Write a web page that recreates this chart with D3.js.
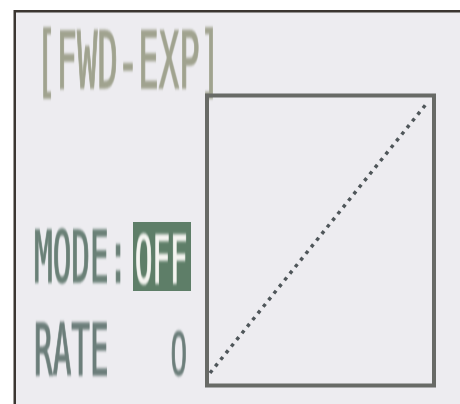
<!DOCTYPE html>
<html><head><meta charset="utf-8">
<script src="https://cdn.jsdelivr.net/npm/d3@7/dist/d3.min.js"></script>
<style>html,body{margin:0;padding:0;background:#fff;overflow:hidden}</style>
</head><body>
<svg id="c" width="460" height="404"></svg>
<script>
// Data
const title = "[FWD-EXP]";
const modeLabel = "MODE:";
const modeValue = "OFF";
const rateLabel = "RATE";
const rateValue = "0";
const stickInput = [-100, 100];
const curveOutput = [-100, 100];
const axisDomain = [-100, 100];

const svg = d3.select("#c");
const defs = svg.append("defs");
defs.append("filter").attr("id","soft").append("feGaussianBlur").attr("stdDeviation",0.6);

// screen background
svg.append("rect").attr("x",14).attr("y",10).attr("width",446).attr("height",394).attr("fill","#edecf0");
// dark bezel edges
svg.append("rect").attr("x",14).attr("y",10).attr("width",446).attr("height",2.5).attr("fill","#3b3631");
svg.append("rect").attr("x",13.5).attr("y",10).attr("width",2.5).attr("height",394).attr("fill","#3b3631");

const font = "'DejaVu Sans Mono', 'Liberation Mono', monospace";
function lcdText(txt, x, y, size, sy, color, fam) {
  return svg.append("text")
    .attr("transform", `translate(${x},${y}) scale(1,${sy})`)
    .attr("font-family", fam || font).attr("font-size", size)
    .attr("fill", color).attr("stroke", color).attr("stroke-width", 0.7)
    .attr("filter","url(#soft)")
    .text(txt);
}

lcdText(title, 36, 88, 34, 2.3, "#a0a38f");
lcdText(modeLabel, 34, 282, 31, 2.3, "#6a8077");
svg.append("rect").attr("x",133).attr("y",222).attr("width",58).attr("height",69).attr("fill","#5e7e68");
lcdText(modeValue, 135, 283, 29, 2.3, "#f4f4f0");
lcdText(rateLabel, 34, 375, 31, 2.3, "#6c7e7a");
lcdText(rateValue, 171, 375, 28, 2.25, "#6c7e7a", "'Liberation Sans', Arial, sans-serif");

// curve box
const x = d3.scaleLinear().domain(axisDomain).range([210, 427]);
const y = d3.scaleLinear().domain(axisDomain).range([373, 103]);
svg.append("rect").attr("x",207).attr("y",95.5).attr("width",227).attr("height",290)
  .attr("fill","none").attr("stroke","#676a66").attr("stroke-width",4).attr("filter","url(#soft)");

const pts = stickInput.map((v,i)=>[v, curveOutput[i]]);
svg.append("path").datum(pts)
  .attr("d", d3.line().x(d=>x(d[0])).y(d=>y(d[1])))
  .attr("fill","none").attr("stroke","#50575a").attr("stroke-width",3.5)
  .attr("stroke-dasharray","3.5 5").attr("filter","url(#soft)");
</script>
</body></html>
